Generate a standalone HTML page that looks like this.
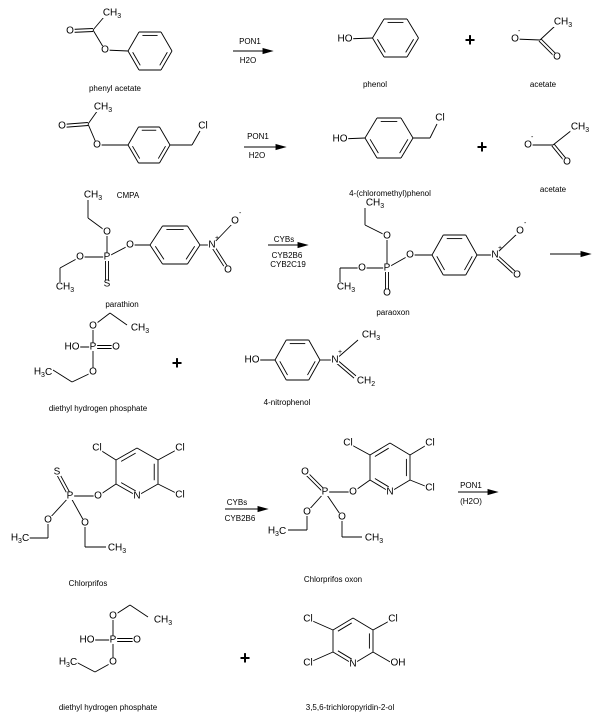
<!DOCTYPE html>
<html><head><meta charset="utf-8"><style>
html,body{margin:0;padding:0;background:#fff}
svg{display:block}
text{font-family:"Liberation Sans",sans-serif;fill:#000}
.a{font-size:10px;text-anchor:middle;dominant-baseline:central}
.l{font-size:8px;text-anchor:middle}
.s{font-size:7px}
.p{font-size:18px;text-anchor:middle;dominant-baseline:central;font-weight:bold}
</style></head><body>
<svg id="g" width="600" height="719" viewBox="0 0 600 719" xmlns="http://www.w3.org/2000/svg"><g id="b" stroke="#000" stroke-width="0.9" fill="none"></g><g id="m" fill="#fff"></g>
<!-- row1 -->
<text class="a" x="112" y="13">CH<tspan class="s" dy="3">3</tspan></text>
<text class="a" x="70" y="31">O</text>
<text class="a" x="105" y="50">O</text>
<text class="l" x="115" y="91">phenyl acetate</text>
<text class="l" x="250" y="44">PON1</text>
<text class="l" x="248" y="63">H2O</text>
<text class="a" x="345" y="39">HO</text>
<text class="l" x="375" y="87">phenol</text>
<text class="p" x="470" y="40">+</text>
<text class="a" x="515" y="39">O</text><text class="s" x="518" y="33">-</text>
<text class="a" x="563" y="22">CH<tspan class="s" dy="3">3</tspan></text>
<text class="a" x="557" y="57">O</text>
<text class="l" x="543" y="87">acetate</text>
<!-- row2 -->
<text class="a" x="103" y="107">CH<tspan class="s" dy="3">3</tspan></text>
<text class="a" x="62" y="126">O</text>
<text class="a" x="97" y="145">O</text>
<text class="a" x="203" y="126">Cl</text>
<text class="l" x="128" y="198">CMPA</text>
<text class="l" x="258" y="139">PON1</text>
<text class="l" x="257" y="158">H2O</text>
<text class="a" x="340" y="139">HO</text>
<text class="a" x="440" y="118">Cl</text>
<text class="l" x="390" y="196">4-(chloromethyl)phenol</text>
<text class="p" x="482" y="147">+</text>
<text class="a" x="528" y="145">O</text><text class="s" x="531" y="139">-</text>
<text class="a" x="580" y="127">CH<tspan class="s" dy="3">3</tspan></text>
<text class="a" x="567" y="162">O</text>
<text class="l" x="553" y="192">acetate</text>
<!-- parathion -->
<text class="a" x="93" y="195">CH<tspan class="s" dy="3">3</tspan></text>
<text class="a" x="107" y="232">O</text>
<text class="a" x="107" y="257">P</text>
<text class="a" x="80" y="257">O</text>
<text class="a" x="65" y="287">CH<tspan class="s" dy="3">3</tspan></text>
<text class="a" x="107" y="284">S</text>
<text class="a" x="130" y="245">O</text>
<text class="a" x="212" y="245">N</text><text class="s" x="215" y="240">+</text>
<text class="a" x="235" y="221">O</text><text class="s" x="239" y="215">-</text>
<text class="a" x="228" y="270">O</text>
<text class="l" x="122" y="307">parathion</text>
<text class="l" x="284" y="242">CYBs</text>
<text class="l" x="287" y="258">CYB2B6</text>
<text class="l" x="288" y="267">CYB2C19</text>
<!-- paraoxon -->
<text class="a" x="375" y="203">CH<tspan class="s" dy="3">3</tspan></text>
<text class="a" x="387" y="236">O</text>
<text class="a" x="387" y="268">P</text>
<text class="a" x="362" y="268">O</text>
<text class="a" x="346" y="287">CH<tspan class="s" dy="3">3</tspan></text>
<text class="a" x="387" y="293">O</text>
<text class="a" x="410" y="255">O</text>
<text class="a" x="495" y="255">N</text><text class="s" x="498" y="250">+</text>
<text class="a" x="520" y="231">O</text><text class="s" x="524" y="225">-</text>
<text class="a" x="517" y="275">O</text>
<text class="l" x="393" y="315">paraoxon</text>
<!-- DEHP 1 -->
<text class="a" x="93" y="326">O</text>
<text class="a" x="140" y="328">CH<tspan class="s" dy="3">3</tspan></text>
<text class="a" x="93" y="347">P</text>
<text class="a" x="72" y="347">HO</text>
<text class="a" x="116" y="347">O</text>
<text class="a" x="93" y="372">O</text>
<text class="a" x="43" y="372">H<tspan class="s" dy="3">3</tspan><tspan dy="-3">C</tspan></text>
<text class="l" x="98" y="411">diethyl hydrogen phosphate</text>
<text class="p" x="177" y="363">+</text>
<!-- 4-nitrophenol -->
<text class="a" x="252" y="360">HO</text>
<text class="a" x="335" y="360">N</text><text class="s" x="338" y="354">+</text>
<text class="a" x="371" y="335">CH<tspan class="s" dy="3">3</tspan></text>
<text class="a" x="366" y="381">CH<tspan class="s" dy="3">2</tspan></text>
<text class="l" x="287" y="405">4-nitrophenol</text>
<!-- chlorpyrifos -->
<text class="a" x="57" y="472">S</text>
<text class="a" x="70" y="496">P</text>
<text class="a" x="98" y="496">O</text>
<text class="a" x="137" y="496">N</text>
<text class="a" x="97" y="448">Cl</text>
<text class="a" x="180" y="448">Cl</text>
<text class="a" x="180" y="495">Cl</text>
<text class="a" x="48" y="520">O</text>
<text class="a" x="20" y="538">H<tspan class="s" dy="3">3</tspan><tspan dy="-3">C</tspan></text>
<text class="a" x="85" y="523">O</text>
<text class="a" x="117" y="548">CH<tspan class="s" dy="3">3</tspan></text>
<text class="l" x="88" y="586">Chlorprifos</text>
<text class="l" x="237" y="505">CYBs</text>
<text class="l" x="240" y="521">CYB2B6</text>
<!-- oxon -->
<text class="a" x="305" y="472">O</text>
<text class="a" x="325" y="492">P</text>
<text class="a" x="353" y="492">O</text>
<text class="a" x="390" y="492">N</text>
<text class="a" x="348" y="443">Cl</text>
<text class="a" x="430" y="443">Cl</text>
<text class="a" x="430" y="488">Cl</text>
<text class="a" x="307" y="512">O</text>
<text class="a" x="277" y="531">H<tspan class="s" dy="3">3</tspan><tspan dy="-3">C</tspan></text>
<text class="a" x="342" y="517">O</text>
<text class="a" x="374" y="538">CH<tspan class="s" dy="3">3</tspan></text>
<text class="l" x="333" y="582">Chlorprifos oxon</text>
<text class="l" x="471" y="488">PON1</text>
<text class="l" x="471" y="504">(H2O)</text>
<!-- DEHP 2 -->
<text class="a" x="113" y="616">O</text>
<text class="a" x="163" y="620">CH<tspan class="s" dy="3">3</tspan></text>
<text class="a" x="113" y="640">P</text>
<text class="a" x="87" y="640">HO</text>
<text class="a" x="137" y="640">O</text>
<text class="a" x="113" y="662">O</text>
<text class="a" x="68" y="662">H<tspan class="s" dy="3">3</tspan><tspan dy="-3">C</tspan></text>
<text class="l" x="108" y="710">diethyl hydrogen phosphate</text>
<text class="p" x="245" y="658">+</text>
<!-- pyridinol -->
<text class="a" x="308" y="619">Cl</text>
<text class="a" x="393" y="619">Cl</text>
<text class="a" x="308" y="663">Cl</text>
<text class="a" x="353" y="664">N</text>
<text class="a" x="398" y="663">OH</text>
<text class="l" x="350" y="710">3,5,6-trichloropyridin-2-ol</text>
</svg>
<script>
var g=document.getElementById('b'),N='http://www.w3.org/2000/svg',m=document.getElementById('m');
function L(a,b,c,d){var e=document.createElementNS(N,'line');e.setAttribute('x1',a);e.setAttribute('y1',b);e.setAttribute('x2',c);e.setAttribute('y2',d);g.appendChild(e);}
function D(a,b,c,d){var dx=c-a,dy=d-b,l=Math.hypot(dx,dy),ox=-dy/l*1.5,oy=dx/l*1.5;L(a+ox,b+oy,c+ox,d+oy);L(a-ox,b-oy,c-ox,d-oy);}
function R(p,dbl){var cx=0,cy=0;p.forEach(function(q){cx+=q[0];cy+=q[1]});cx/=p.length;cy/=p.length;
for(var i=0;i<p.length;i++){var a=p[i],b=p[(i+1)%p.length];L(a[0],a[1],b[0],b[1]);
if(dbl.indexOf(i)>=0){var f=0.82;var ax=cx+(a[0]-cx)*f,ay=cy+(a[1]-cy)*f,bx=cx+(b[0]-cx)*f,by=cy+(b[1]-cy)*f;
var sx=(bx-ax)*0.08,sy=(by-ay)*0.08;L(ax+sx,ay+sy,bx-sx,by-sy);}}}
function H(cx,cy,w,h){return [[cx-w,cy],[cx-w/2,cy-h],[cx+w/2,cy-h],[cx+w,cy],[cx+w/2,cy+h],[cx-w/2,cy+h]];}
function A(x1,y,x2){L(x1,y,x2-6,y);var t=document.createElementNS(N,'polygon');t.setAttribute('points',(x2-9)+','+(y-2.5)+' '+x2+','+y+' '+(x2-9)+','+(y+2.5));t.setAttribute('fill','#000');g.appendChild(t);}
L(93,30,104,17);D(93,30,70,31);L(93,30,105,50);L(105,50,128,51);R(H(150,51,22,19),[1,3,5]);
A(233,51,272);
L(345,39,372.5,38);R(H(395.5,38,23,19),[1,3,5]);
L(515,39,540,40);L(540,40,555,26);D(540,40,557,57);
L(88,124,98,110);D(88,124,62,126);L(88,124,97,145);L(97,145,128,145);R(H(149,145,21,18),[1,3,5]);L(170,145,192,145);L(192,145,200,131);
A(244,147,285);
L(340,139,365,138);R(H(389,138,24,20),[1,3,5]);L(413,138,430,138);L(430,138,437,124);
L(528,145,553,145);L(553,145,572,130);D(553,145,567,162);
L(88,200,88,218);L(88,218,107,232);L(107,232,107,257);L(80,257,107,257);L(80,257,60,268);L(60,268,60,282);D(107,257,107,284);L(107,257,130,245);L(130,245,150,245);R(H(175,245,25,19),[1,3,5]);L(200,245,212,245);L(212,245,235,221);D(212,245,228,270);
A(268,245,307);
L(365,208,365,225);L(365,225,387,236);L(387,236,387,268);L(362,268,387,268);L(362,268,340,268);L(340,268,340,282);D(387,268,387,293);L(387,268,410,255);L(410,255,432,255);R(H(454.5,255,22.5,20),[1,3,5]);L(477,255,495,255);L(495,255,520,231);D(495,255,517,275);
A(550,254,590);
L(93,326,110,313);L(110,313,127,325);L(93,326,93,372);L(72,347,93,347);D(93,347,116,347);L(93,372,72,382);L(72,382,53,370);
L(252,360,275,360);R(H(297.5,360,22.5,20),[1,3,5]);L(320,360,335,360);L(335,360,358,340);D(335,360,355,377);
D(57,472,70,496);L(70,496,98,496);L(98,496,116,484);
var c=[[116,484],[116,460],[137,448],[158,460],[158,484],[137,496]];R(c,[1,3,5]);
L(116,460,97,448);L(158,460,180,448);L(158,484,180,495);
L(70,496,48,520);L(48,520,48,538);L(48,538,28,538);L(70,496,85,523);L(85,523,85,547);L(85,547,106,547);
A(225,509,267);
D(305,472,325,492);L(325,492,353,492);L(353,492,370,480);
c=[[370,480],[370,455],[390,443],[410,455],[410,480],[390,492]];R(c,[1,3,5]);
L(370,455,348,443);L(410,455,430,443);L(410,480,430,488);
L(325,492,307,512);L(307,512,307,530);L(307,530,288,530);L(325,492,342,517);L(342,517,342,537);L(342,537,362,537);
A(458,492,497);
L(113,616,130,605);L(130,605,148,617);L(113,616,113,662);L(87,640,113,640);D(113,640,137,640);L(113,662,95,672);L(95,672,76,662);
c=[[333,652],[333,630],[353,618],[373,630],[373,652],[353,664]];R(c,[1,3,5]);
L(333,630,308,619);L(373,630,393,619);L(333,652,308,663);L(373,652,392,663);
var ts=document.querySelectorAll('text.a');
for(var i=0;i<ts.length;i++){var bb=ts[i].getBBox();var r=document.createElementNS(N,'rect');
r.setAttribute('x',bb.x-0.5);r.setAttribute('y',bb.y+1.5);r.setAttribute('width',bb.width+1);r.setAttribute('height',bb.height-3);m.appendChild(r);}
</script>
</body></html>
